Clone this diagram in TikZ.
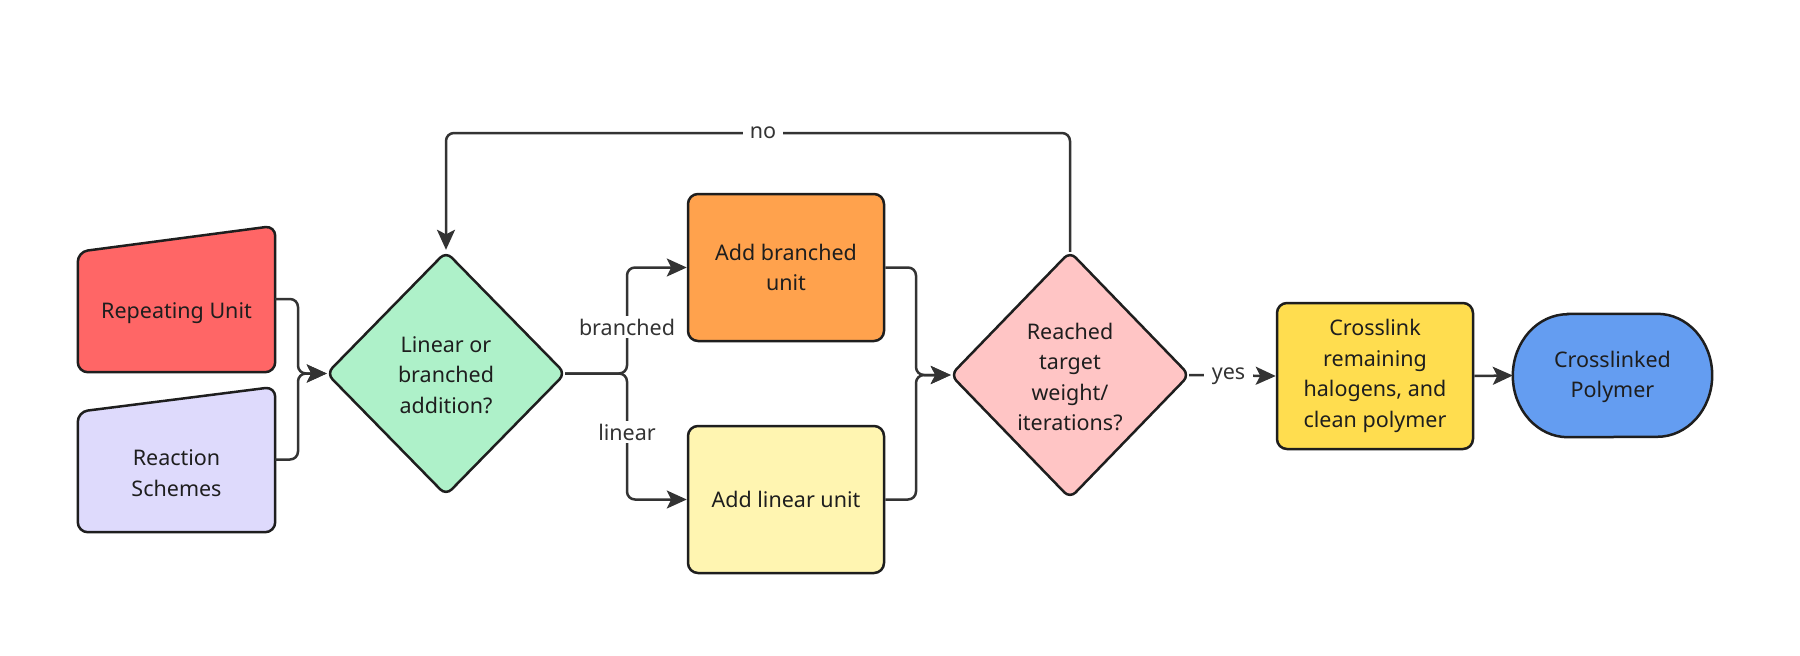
\documentclass[tikz,border=0pt]{standalone}
\usepackage{fontspec}
\setmainfont{Noto Sans}
\usetikzlibrary{arrows.meta,calc}
\definecolor{ink}{HTML}{1E1E1E}
\definecolor{wire}{HTML}{333333}
\definecolor{cRed}{HTML}{FF6666}
\definecolor{cLav}{HTML}{DEDAFC}
\definecolor{cGreen}{HTML}{AEF1C9}
\definecolor{cOrange}{HTML}{FFA24D}
\definecolor{cLightY}{HTML}{FFF5B1}
\definecolor{cPink}{HTML}{FFC5C5}
\definecolor{cYellow}{HTML}{FFDD4F}
\definecolor{cBlue}{HTML}{649DF1}
\begin{document}
\begin{tikzpicture}[x=1pt,y=-1pt,
  every node/.style={font=\fontsize{21.5}{30.5}\selectfont, text=ink, align=center, inner sep=0pt},
  shapebox/.style={draw=ink, line width=2.5pt, rounded corners=10pt},
  frame/.style={draw=none, minimum width=#1},
  conn/.style={draw=wire, line width=2.5pt, rounded corners=8pt},
  arr/.style={-{Stealth[length=20pt,width=18pt,inset=4.5pt]}},
  lab/.style={fill=white, text=wire, inner xsep=7pt, inner ysep=3pt}]
\useasboundingbox (0,0) rectangle (1800,656);
\fill[white] (0,0) rectangle (1800,656);

% input shapes (slanted top)
\node[frame=197pt, minimum height=146pt] (ruS) at (176.5,299) {};
\path[shapebox, fill=cRed] ($(ruS.north west)+(0,26)$) -- (ruS.north east) -- (ruS.south east) -- (ruS.south west) -- cycle;
\node (ru) at (176.5,313) {Repeating Unit};

\node[frame=197pt, minimum height=145pt] (rsS) at (176.5,459.5) {};
\path[shapebox, fill=cLav] ($(rsS.north west)+(0,25)$) -- (rsS.north east) -- (rsS.south east) -- (rsS.south west) -- cycle;
\node (rs) at (176.5,473) {Reaction\\Schemes};

% decision 1
\node[frame=238pt, minimum height=243pt] (d1f) at (446,373.5) {};
\path[shapebox, fill=cGreen, rounded corners=8pt] (d1f.north) -- (d1f.east) -- (d1f.south) -- (d1f.west) -- cycle;
\node (d1) at (446,375) {Linear or\\branched\\addition?};

% process boxes
\node[shapebox, fill=cOrange, minimum width=196pt, minimum height=147pt] (br) at (786,267.5) {Add branched\\unit};
\node[shapebox, fill=cLightY, minimum width=196pt, minimum height=147pt] (li) at (786,499.5) {Add linear unit};

% decision 2
\node[frame=238pt, minimum height=246pt] (d2f) at (1070,375) {};
\path[shapebox, fill=cPink, rounded corners=8pt] (d2f.north) -- (d2f.east) -- (d2f.south) -- (d2f.west) -- cycle;
\node (d2) at (1070,377) {Reached\\target\\weight/\\iterations?};

% crosslink
\node[shapebox, fill=cYellow, minimum width=196pt, minimum height=146pt] (cl) at (1375,376) {Crosslink\\remaining\\halogens, and\\clean polymer};

% polymer terminal
\node[frame=199pt, minimum height=123pt] (pf) at (1612.5,375.5) {};
\path[shapebox, fill=cBlue, rounded corners=0pt] ($(pf.north west)+(55,0)$) -- ($(pf.north east)+(-55,0)$)
  arc[start angle=90, end angle=-90, x radius=55pt, y radius=61.5pt]
  -- ($(pf.south west)+(55,0)$)
  arc[start angle=270, end angle=90, x radius=55pt, y radius=61.5pt] -- cycle;
\node (pl) at (1612.5,377) {Crosslinked\\Polymer};

% connectors
\coordinate (j1) at (298,373.5);
\draw[conn, arr] (ruS.east) -| (j1) -- (d1f.west);
\draw[conn, arr] (rsS.east) -| (j1) -- (d1f.west);

\coordinate (j2) at (627,373.5);
\draw[conn, arr] (d1f.east) -- (j2) |- (br.west);
\draw[conn, arr] (d1f.east) -- (j2) |- (li.west);

\coordinate (j3) at (916,375);
\draw[conn, arr] (br.east) -| (j3) -- (d2f.west);
\draw[conn, arr] (li.east) -| (j3) -- (d2f.west);

\coordinate (top) at (446,133);
\draw[conn, arr, shorten >=2pt] (d2f.north) |- (top) -- (d1f.north);

\draw[conn, arr] (d2f.east) -- (cl.west);
\draw[conn, arr] (cl.east) -- (pf.west);

% labels
\node[lab] (nol) at (763,133) {no};
\node[lab] (brl) at (627,327) {branched};
\node[lab] (lil) at (627,432) {linear};
\node[lab, inner xsep=8pt] (yesl) at (1228.5,376) {yes};
\end{tikzpicture}
\end{document}
